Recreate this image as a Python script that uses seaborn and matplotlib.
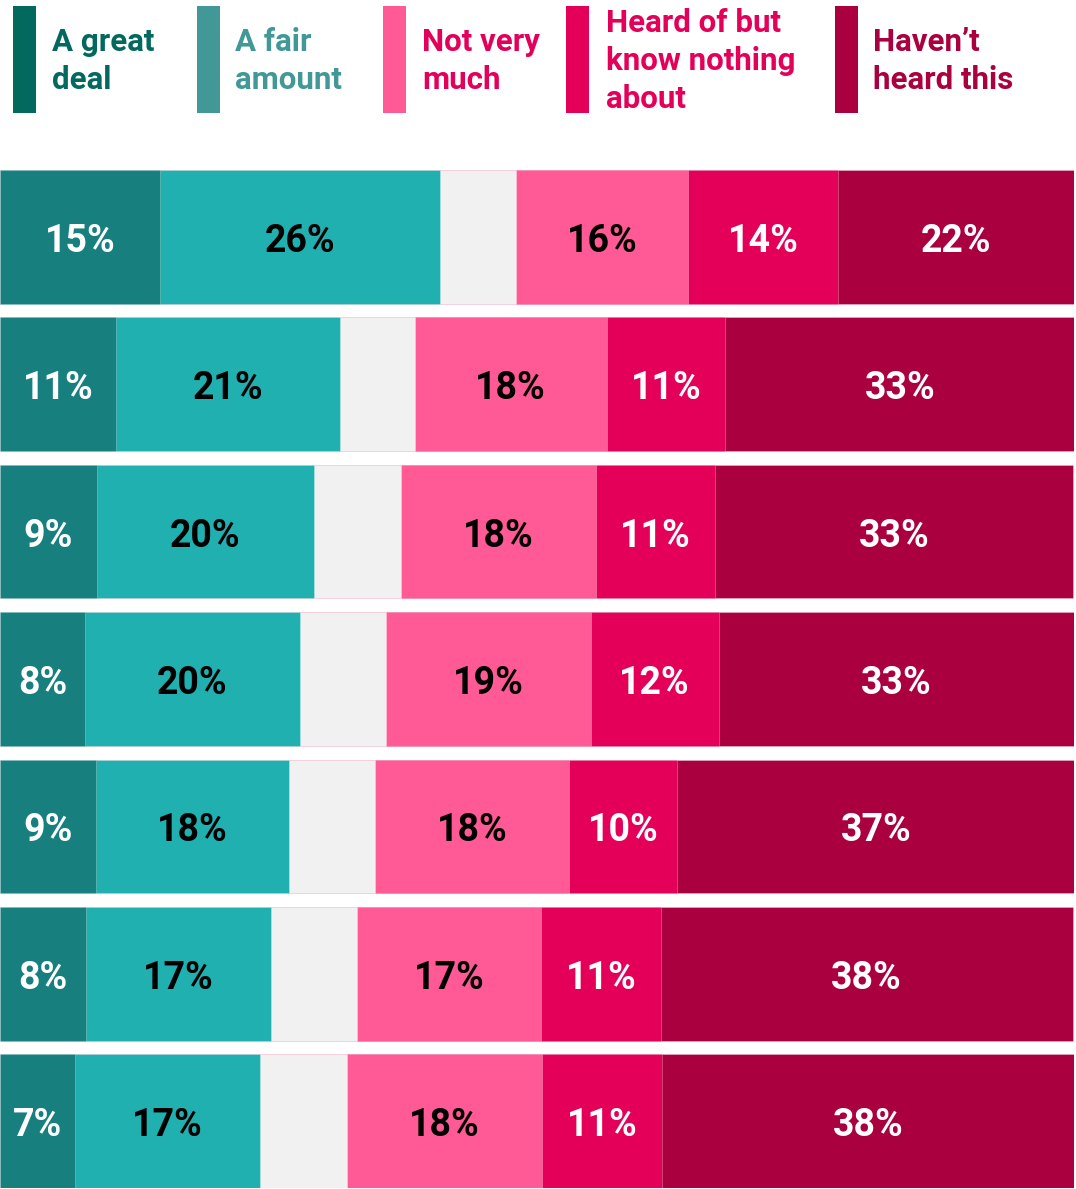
import numpy as np
import pandas as pd
import seaborn as sns
import matplotlib.pyplot as plt
from matplotlib.patches import Rectangle

# segment widths (%) per row, top row first
rows = ["r1", "r2", "r3", "r4", "r5", "r6", "r7"]
great_deal = [14.9, 10.8, 9.0, 7.9, 8.9, 8.0, 7.0]
fair_amount = [26.1, 20.9, 20.2, 20.0, 18.0, 17.2, 17.2]
dont_know = [7.0, 6.9, 8.1, 8.0, 8.0, 8.0, 8.1]
not_very_much = [16.1, 17.9, 18.2, 19.1, 18.1, 17.2, 18.2]
heard_nothing = [13.9, 11.0, 11.1, 11.9, 10.0, 11.1, 11.1]
havent_heard = [22.1, 32.6, 33.3, 33.1, 37.1, 38.4, 38.4]

segments = ["great", "fair", "dk", "notvery", "heard", "havent"]
bar_colors = ["#177f7e", "#1fb0af", "#f1f1f1", "#ff5a95", "#e40059", "#ab003f"]
label_colors = ["white", "black", None, "black", "white", "white"]

legend_labels = ["A great\ndeal", "A fair\namount", "Not very\nmuch",
                 "Heard of but\nknow nothing\nabout", "Haven\u2019t\nheard this"]
legend_swatch = ["#03695f", "#429896", "#ff5a95", "#e40059", "#ab003f"]
legend_text = ["#03695f", "#429896", "#e3005a", "#e40059", "#ab003f"]

def configStyle():
    sns.set_theme(style="white")
    plt.rcParams['font.family'] = ['Roboto', 'DejaVu Sans']
    return True

def plotStacked():
    df = pd.DataFrame({"row": rows, "great": great_deal, "fair": fair_amount,
                       "dk": dont_know, "notvery": not_very_much,
                       "heard": heard_nothing, "havent": havent_heard})
    cum = df[segments].cumsum(axis=1)

    W, H = 1076, 1189
    fig = plt.figure(figsize=(W / 100, H / 100), dpi=100)
    ax = fig.add_axes([0, 1 / H, 1074 / W, 1018 / H])

    bw = 0.906
    for i in reversed(range(len(segments))):
        seg = segments[i]
        sns.barplot(x=cum[seg], y=df["row"], color=bar_colors[i], saturation=1,
                    width=bw, orient="h", errorbar=None, ax=ax,
                    edgecolor=(1, 1, 1, 0.3), linewidth=0.6)

    for i, seg in enumerate(segments):
        if label_colors[i] is None:
            continue
        for j in range(len(rows)):
            w = df[seg][j]
            start = cum[seg][j] - w
            ax.text(start + w / 2, j + 0.03, f"{w:.0f}%", ha="center", va="center",
                    fontsize=27, fontweight="bold", color=label_colors[i])

    ax.set_xlim(0, 100)
    ax.set_ylim(len(rows) - 1 + bw / 2, -bw / 2)
    ax.set_axis_off()

    # legend across the top
    sw_x = [13, 197, 383, 566, 835]
    tx_x = [52, 235, 422, 606, 873]
    for k in range(len(legend_labels)):
        fig.add_artist(Rectangle((sw_x[k] / W, 1 - 113 / H), 23 / W, 107 / H,
                                 transform=fig.transFigure, color=legend_swatch[k], lw=0))
        fig.text(tx_x[k] / W, 1 - 61 / H, legend_labels[k], ha="left", va="center",
                 fontsize=22.5, fontweight="bold", color=legend_text[k], linespacing=1.33)

    plt.savefig('out.png', dpi=100)

configStyle()
plotStacked()
